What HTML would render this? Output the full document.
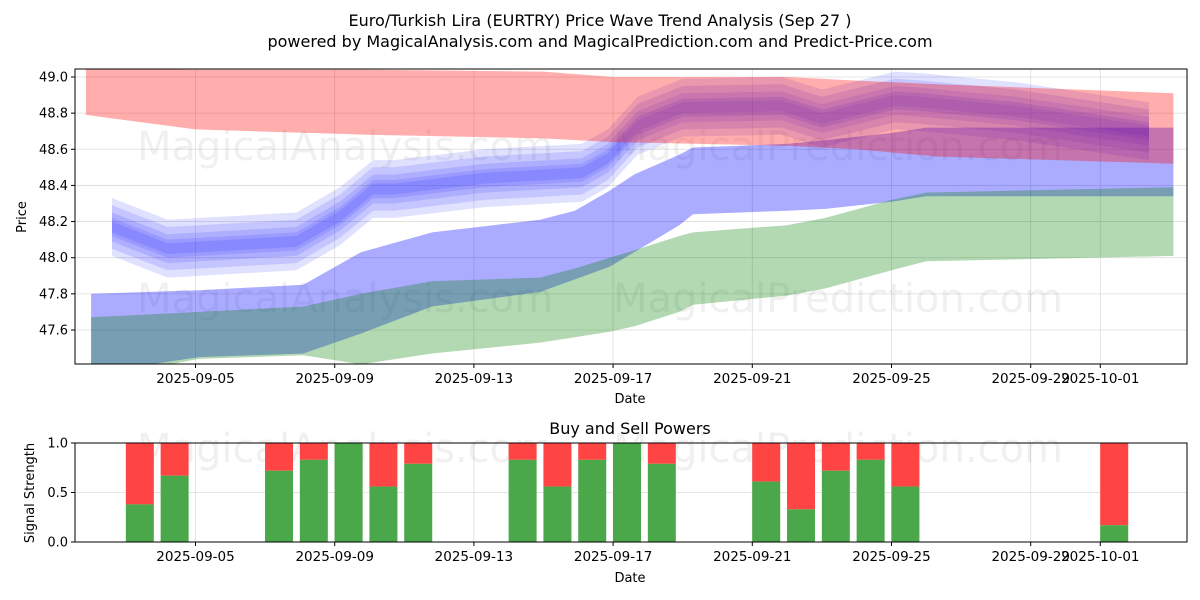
<!DOCTYPE html>
<html><head><meta charset="utf-8"><style>
body{margin:0;background:#fff;}
svg{display:block;font-family:"DejaVu Sans","Liberation Sans",sans-serif;}
</style></head><body>
<svg id="chart" width="1200" height="600" viewBox="0 0 1200 600" xmlns="http://www.w3.org/2000/svg">
<text x="600" y="26" text-anchor="middle" font-size="16">Euro/Turkish Lira (EURTRY) Price Wave Trend Analysis (Sep 27 )</text>
<text x="600" y="47" text-anchor="middle" font-size="16">powered by MagicalAnalysis.com and MagicalPrediction.com and Predict-Price.com</text>
<g id="topPanel"></g>
<g id="botPanel"></g>
</svg>
<script>
const NS='http://www.w3.org/2000/svg';
// ---- data ----
const xTickDays=[5,9,13,17,21,25,29,31];
const xTickLabels=['2025-09-05','2025-09-09','2025-09-13','2025-09-17','2025-09-21','2025-09-25','2025-09-29','2025-10-01'];
const yTicks=[47.6,47.8,48.0,48.2,48.4,48.6,48.8,49.0];
const redDays=[1.85,5,10,15,17,22,24,26.3,33.1];
const redUpper=[49.05,49.04,49.04,49.03,49.0,49.0,48.98,48.96,48.91];
const redLower=[48.79,48.71,48.68,48.66,48.64,48.62,48.60,48.56,48.52];
const bandDays=[2,5.1,8.1,9.75,11.8,14.9,15.9,16.9,17.6,18.9,19.3,22,23.1,25,26,33.1];
const blueUpper=[47.80,47.82,47.85,48.03,48.14,48.21,48.26,48.37,48.46,48.57,48.61,48.63,48.65,48.69,48.72,48.72];
const blueLower=[47.36,47.45,47.47,47.58,47.73,47.81,47.88,47.95,48.03,48.18,48.24,48.26,48.27,48.31,48.34,48.34];
const greenUpper=[47.67,47.70,47.73,47.80,47.87,47.89,47.94,48.00,48.04,48.12,48.14,48.18,48.22,48.32,48.36,48.39];
const greenLower=[47.33,47.44,47.46,47.41,47.47,47.53,47.56,47.59,47.62,47.70,47.74,47.79,47.83,47.93,47.98,48.01];
const fanDays=[2.6,3.0,4.2,7.9,9.15,10.1,10.7,13.3,16.1,16.85,17.7,19.0,21.85,23.0,25.1,25.9,28.6,32.4];
const fanCenter=[48.17,48.14,48.05,48.09,48.23,48.38,48.38,48.44,48.47,48.55,48.73,48.83,48.84,48.77,48.87,48.86,48.81,48.70];
const fanWidths=[0.03,0.05,0.08,0.12,0.16];
const barDays=[3,4,7,8,9,10,11,14,15,16,17,18,21,22,23,24,25,31];
const buyPower=[0.38,0.67,0.72,0.83,1.0,0.56,0.79,0.83,0.56,0.83,1.0,0.79,0.61,0.33,0.72,0.83,0.56,0.17];
// ---- scales ----
const X0=75,X1=1187,T0=69,T1=364,B0=443,B1=542;
const xs=d=>195.5+(d-5)*34.8;
const ys=p=>77+(49.0-p)*180.7;
const yb=v=>B1-v*(B1-B0);
const topG=document.getElementById('topPanel'),botG=document.getElementById('botPanel');
function mk(tag,attrs,parent){const e=document.createElementNS(NS,tag);for(const k in attrs)e.setAttribute(k,attrs[k]);parent.appendChild(e);return e;}
const defs=mk('defs',{},topG);
const cp=mk('clipPath',{id:'cpTop'},defs);mk('rect',{x:X0,y:T0,width:X1-X0,height:T1-T0},cp);
yTicks.forEach(v=>{const l=mk('line',{x1:X0,x2:X1,y1:ys(v),y2:ys(v),stroke:'#dcdcdc','stroke-width':0.8},topG);

});
xTickDays.forEach(d=>{const l=mk('line',{x1:xs(d),x2:xs(d),y1:T0,y2:T1,stroke:'#dcdcdc','stroke-width':0.8},topG);

});
[['MagicalAnalysis.com',345,160],['MagicalPrediction.com',838,160],['MagicalAnalysis.com',345,312],['MagicalPrediction.com',838,312]].forEach(w=>{
const t=mk('text',{x:w[1],y:w[2],'text-anchor':'middle','font-size':40,fill:'#000','fill-opacity':0.06},topG);t.textContent=w[0];

});
const g=mk('g',{'clip-path':'url(#cpTop)'},topG);
function band(days,up,lo,fill,op,name){
let d='M'+days.map((x,i)=>xs(x).toFixed(1)+','+ys(up[i]).toFixed(1)).join('L');
for(let i=days.length-1;i>=0;i--)d+='L'+xs(days[i]).toFixed(1)+','+ys(lo[i]).toFixed(1);
const p=mk('path',{d:d+'Z',fill:fill,'fill-opacity':op},g);


return p;}
band(bandDays,blueUpper,blueLower,'#0000ff',0.33,'blue-band');
band(bandDays,greenUpper,greenLower,'#008000',0.3,'green-band');
fanWidths.forEach(w=>{
band(fanDays,fanCenter.map(c=>c+w),fanCenter.map(c=>c-w),'#2020ff',0.14,'forecast-fan-band');
});
band(redDays,redUpper,redLower,'#ff0000',0.32,'red-band');
mk('rect',{x:X0,y:T0,width:X1-X0,height:T1-T0,fill:'none',stroke:'#000','stroke-width':1},topG);
yTicks.forEach(v=>{mk('line',{x1:X0-4,x2:X0,y1:ys(v),y2:ys(v),stroke:'#000'},topG);
const t=mk('text',{x:X0-7,y:ys(v)+4.5,'text-anchor':'end','font-size':13},topG);t.textContent=v.toFixed(1);

});
xTickDays.forEach((d,i)=>{mk('line',{x1:xs(d),x2:xs(d),y1:T1,y2:T1+4,stroke:'#000'},topG);
const t=mk('text',{x:xs(d),y:T1+19,'text-anchor':'middle','font-size':13.5},topG);t.textContent=xTickLabels[i];

});
let tx=mk('text',{x:630,y:403,'text-anchor':'middle','font-size':13},topG);tx.textContent='Date';


tx=mk('text',{x:0,y:0,'text-anchor':'middle','font-size':13,transform:'translate(26,217) rotate(-90)'},topG);tx.textContent='Price';


// ---- bottom ----
[0,0.5,1].forEach(v=>{const l=mk('line',{x1:X0,x2:X1,y1:yb(v),y2:yb(v),stroke:'#dcdcdc','stroke-width':0.8},botG);

});
xTickDays.forEach(d=>{const l=mk('line',{x1:xs(d),x2:xs(d),y1:B0,y2:B1,stroke:'#dcdcdc','stroke-width':0.8},botG);

});
[['MagicalAnalysis.com',345,462],['MagicalPrediction.com',838,462]].forEach(w=>{
const tt=mk('text',{x:w[1],y:w[2],'text-anchor':'middle','font-size':40,fill:'#000','fill-opacity':0.06},botG);tt.textContent=w[0];

});
barDays.forEach((d,i)=>{
const cx=xs(d+0.4),bw=28;
const r=mk('rect',{x:cx-bw/2,y:yb(1),width:bw,height:yb(buyPower[i])-yb(1),fill:'#ff4444'},botG);


const gr=mk('rect',{x:cx-bw/2,y:yb(buyPower[i]),width:bw,height:yb(0)-yb(buyPower[i]),fill:'#4aa84a'},botG);


});
mk('rect',{x:X0,y:B0,width:X1-X0,height:B1-B0,fill:'none',stroke:'#000','stroke-width':1},botG);
[0,0.5,1].forEach(v=>{mk('line',{x1:X0-4,x2:X0,y1:yb(v),y2:yb(v),stroke:'#000'},botG);
const tt=mk('text',{x:X0-7,y:yb(v)+4.5,'text-anchor':'end','font-size':13},botG);tt.textContent=v.toFixed(1);

});
xTickDays.forEach((d,i)=>{mk('line',{x1:xs(d),x2:xs(d),y1:B1,y2:B1+4,stroke:'#000'},botG);
const tt=mk('text',{x:xs(d),y:B1+19,'text-anchor':'middle','font-size':13.5},botG);tt.textContent=xTickLabels[i];

});
tx=mk('text',{x:630,y:434,'text-anchor':'middle','font-size':16},botG);tx.textContent='Buy and Sell Powers';


tx=mk('text',{x:630,y:582,'text-anchor':'middle','font-size':13},botG);tx.textContent='Date';


tx=mk('text',{x:0,y:0,'text-anchor':'middle','font-size':13,transform:'translate(34,493) rotate(-90)'},botG);tx.textContent='Signal Strength';


</script>
</body></html>
